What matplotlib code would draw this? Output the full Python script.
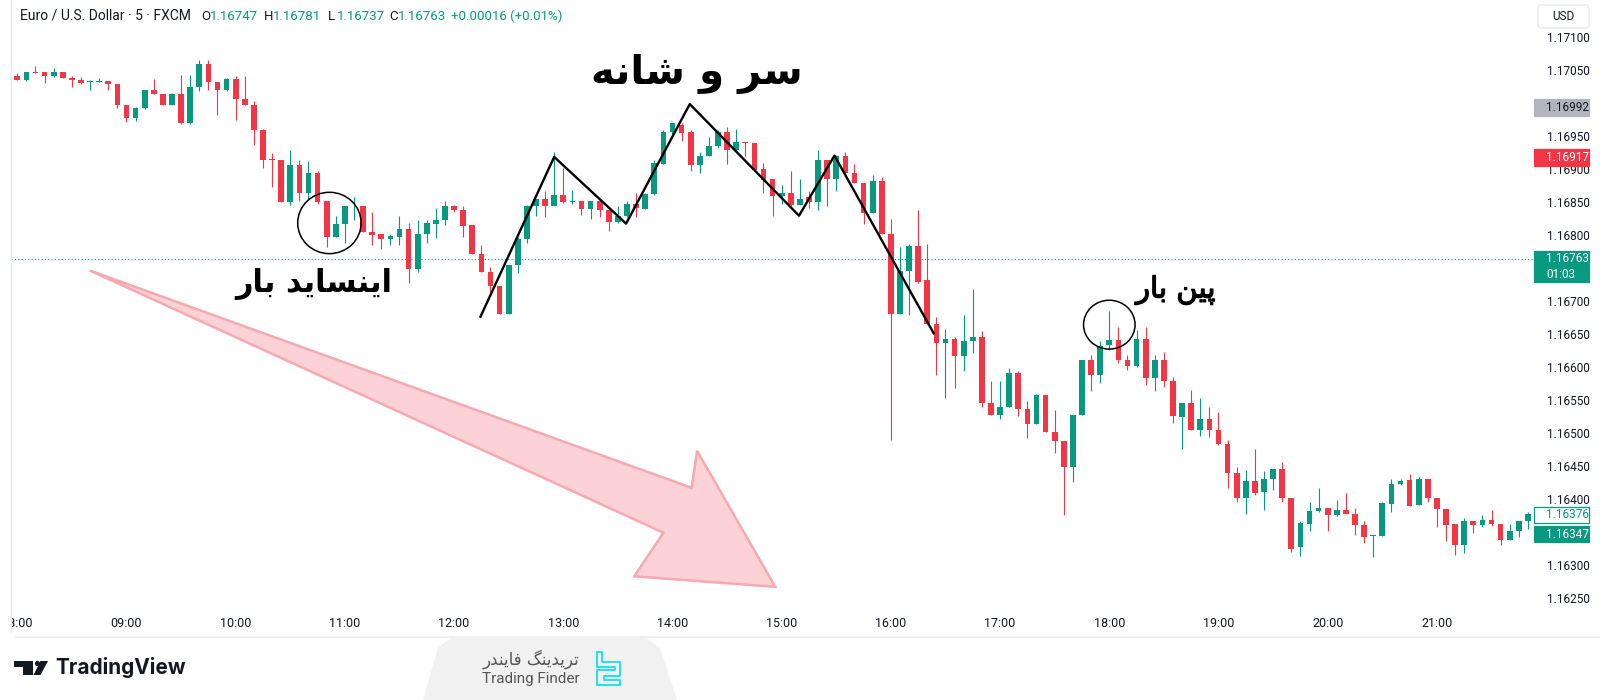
import matplotlib
matplotlib.use("Agg")
import numpy as np
import matplotlib.pyplot as plt
import matplotlib.patheffects as pe
from matplotlib.patches import Ellipse, Polygon, FancyBboxPatch, Rectangle, Circle

plt.rcParams["font.family"] = ["Roboto", "DejaVu Sans"]

# EUR/USD 5 min candles, 08:00 -> 21:50
opens = [1.17040, 1.17034, 1.17047, 1.17046, 1.17040, 1.17046, 1.17038, 1.17035, 1.17031, 1.17032,
         1.17033, 1.17029, 1.16997, 1.16977, 1.16992, 1.17019, 1.17013, 1.16997, 1.17014, 1.16969,
         1.17024, 1.17059, 1.17032, 1.17019, 1.17036, 1.17005, 1.16997, 1.16959, 1.16914, 1.16913,
         1.16849, 1.16906, 1.16864, 1.16893, 1.16851, 1.16797, 1.16817, 1.16843, 1.16843, 1.16805,
         1.16801, 1.16794, 1.16797, 1.16809, 1.16749, 1.16802, 1.16817, 1.16822, 1.16843, 1.16838,
         1.16815, 1.16771, 1.16744, 1.16722, 1.16680, 1.16754, 1.16793, 1.16843, 1.16855, 1.16843,
         1.16860, 1.16850, 1.16852, 1.16839, 1.16852, 1.16838, 1.16819, 1.16828, 1.16847, 1.16839,
         1.16862, 1.16908, 1.16955, 1.16967, 1.16955, 1.16906, 1.16920, 1.16934, 1.16955, 1.16929,
         1.16940, 1.16939, 1.16899, 1.16884, 1.16859, 1.16864, 1.16845, 1.16857, 1.16849, 1.16913,
         1.16884, 1.16919, 1.16893, 1.16879, 1.16833, 1.16882, 1.16802, 1.16680, 1.16746, 1.16783,
         1.16732, 1.16665, 1.16637, 1.16643, 1.16617, 1.16640, 1.16645, 1.16545, 1.16527, 1.16539,
         1.16591, 1.16537, 1.16514, 1.16558, 1.16501, 1.16488, 1.16448, 1.16527, 1.16610, 1.16588,
         1.16633, 1.16641, 1.16610, 1.16602, 1.16642, 1.16584, 1.16610, 1.16578, 1.16524, 1.16546,
         1.16504, 1.16521, 1.16505, 1.16484, 1.16440, 1.16402, 1.16428, 1.16410, 1.16430, 1.16445,
         1.16402, 1.16328, 1.16362, 1.16382, 1.16386, 1.16376, 1.16384, 1.16378, 1.16360, 1.16344,
         1.16344, 1.16393, 1.16422, 1.16429, 1.16391, 1.16430, 1.16402, 1.16385, 1.16362, 1.16331,
         1.16367, 1.16361, 1.16368, 1.16362, 1.16338, 1.16352, 1.16367]
highs = [1.17045, 1.17046, 1.17056, 1.17046, 1.17052, 1.17046, 1.17040, 1.17039, 1.17035, 1.17037,
         1.17033, 1.17029, 1.16997, 1.16993, 1.17019, 1.17036, 1.17013, 1.17015, 1.17042, 1.17042,
         1.17064, 1.17064, 1.17032, 1.17037, 1.17041, 1.17041, 1.17002, 1.16960, 1.16924, 1.16913,
         1.16929, 1.16913, 1.16912, 1.16896, 1.16851, 1.16828, 1.16844, 1.16858, 1.16843, 1.16834,
         1.16801, 1.16802, 1.16828, 1.16818, 1.16823, 1.16823, 1.16840, 1.16852, 1.16845, 1.16844,
         1.16815, 1.16785, 1.16752, 1.16722, 1.16754, 1.16797, 1.16845, 1.16855, 1.16866, 1.16926,
         1.16901, 1.16868, 1.16852, 1.16852, 1.16855, 1.16838, 1.16843, 1.16852, 1.16863, 1.16863,
         1.16913, 1.16959, 1.16970, 1.16969, 1.16959, 1.16925, 1.16948, 1.16959, 1.16964, 1.16960,
         1.16941, 1.16939, 1.16909, 1.16884, 1.16876, 1.16896, 1.16884, 1.16866, 1.16928, 1.16913,
         1.16921, 1.16926, 1.16908, 1.16879, 1.16891, 1.16887, 1.16824, 1.16782, 1.16786, 1.16837,
         1.16786, 1.16676, 1.16657, 1.16646, 1.16679, 1.16718, 1.16655, 1.16578, 1.16579, 1.16598,
         1.16594, 1.16548, 1.16559, 1.16558, 1.16535, 1.16488, 1.16527, 1.16611, 1.16618, 1.16640,
         1.16684, 1.16661, 1.16618, 1.16656, 1.16661, 1.16618, 1.16623, 1.16585, 1.16546, 1.16565,
         1.16553, 1.16539, 1.16532, 1.16490, 1.16448, 1.16444, 1.16475, 1.16442, 1.16445, 1.16456,
         1.16402, 1.16366, 1.16396, 1.16417, 1.16386, 1.16398, 1.16409, 1.16386, 1.16367, 1.16346,
         1.16395, 1.16431, 1.16431, 1.16438, 1.16434, 1.16430, 1.16402, 1.16385, 1.16362, 1.16371,
         1.16367, 1.16376, 1.16384, 1.16362, 1.16362, 1.16367, 1.16380]
lows = [1.17034, 1.17033, 1.17045, 1.17030, 1.17039, 1.17037, 1.17024, 1.17028, 1.17019, 1.17031,
        1.17019, 1.16992, 1.16971, 1.16973, 1.16991, 1.17013, 1.16996, 1.16996, 1.16968, 1.16968,
        1.17018, 1.17019, 1.16982, 1.17018, 1.16974, 1.16997, 1.16936, 1.16901, 1.16873, 1.16849,
        1.16845, 1.16852, 1.16855, 1.16847, 1.16782, 1.16797, 1.16787, 1.16823, 1.16805, 1.16785,
        1.16778, 1.16785, 1.16785, 1.16727, 1.16743, 1.16787, 1.16795, 1.16815, 1.16835, 1.16797,
        1.16771, 1.16743, 1.16707, 1.16680, 1.16680, 1.16742, 1.16787, 1.16828, 1.16827, 1.16843,
        1.16848, 1.16847, 1.16830, 1.16824, 1.16827, 1.16806, 1.16818, 1.16827, 1.16827, 1.16839,
        1.16860, 1.16907, 1.16953, 1.16942, 1.16897, 1.16894, 1.16919, 1.16931, 1.16908, 1.16928,
        1.16919, 1.16898, 1.16863, 1.16829, 1.16847, 1.16844, 1.16845, 1.16840, 1.16838, 1.16843,
        1.16866, 1.16892, 1.16878, 1.16817, 1.16833, 1.16802, 1.16490, 1.16680, 1.16679, 1.16727,
        1.16665, 1.16588, 1.16553, 1.16568, 1.16594, 1.16621, 1.16540, 1.16527, 1.16521, 1.16539,
        1.16525, 1.16492, 1.16514, 1.16501, 1.16469, 1.16376, 1.16426, 1.16527, 1.16563, 1.16575,
        1.16626, 1.16606, 1.16595, 1.16600, 1.16573, 1.16564, 1.16570, 1.16515, 1.16475, 1.16504,
        1.16496, 1.16494, 1.16482, 1.16416, 1.16395, 1.16377, 1.16406, 1.16384, 1.16414, 1.16395,
        1.16320, 1.16313, 1.16352, 1.16381, 1.16352, 1.16375, 1.16378, 1.16346, 1.16334, 1.16312,
        1.16344, 1.16381, 1.16421, 1.16389, 1.16391, 1.16395, 1.16358, 1.16336, 1.16315, 1.16319,
        1.16349, 1.16358, 1.16359, 1.16331, 1.16338, 1.16342, 1.16354]
closes = [1.17034, 1.17046, 1.17045, 1.17040, 1.17046, 1.17037, 1.17035, 1.17030, 1.17033, 1.17033,
          1.17028, 1.16997, 1.16977, 1.16992, 1.17019, 1.17013, 1.16997, 1.17014, 1.16969, 1.17024,
          1.17059, 1.17032, 1.17019, 1.17036, 1.17005, 1.16997, 1.16959, 1.16913, 1.16913, 1.16849,
          1.16906, 1.16864, 1.16893, 1.16850, 1.16797, 1.16817, 1.16843, 1.16844, 1.16805, 1.16800,
          1.16793, 1.16798, 1.16809, 1.16749, 1.16802, 1.16818, 1.16823, 1.16843, 1.16837, 1.16814,
          1.16771, 1.16744, 1.16722, 1.16680, 1.16754, 1.16793, 1.16844, 1.16855, 1.16843, 1.16860,
          1.16849, 1.16852, 1.16839, 1.16852, 1.16838, 1.16820, 1.16829, 1.16847, 1.16840, 1.16862,
          1.16909, 1.16955, 1.16969, 1.16954, 1.16906, 1.16920, 1.16935, 1.16955, 1.16929, 1.16940,
          1.16939, 1.16898, 1.16883, 1.16859, 1.16864, 1.16845, 1.16855, 1.16849, 1.16913, 1.16884,
          1.16919, 1.16893, 1.16879, 1.16833, 1.16882, 1.16802, 1.16680, 1.16746, 1.16783, 1.16729,
          1.16665, 1.16637, 1.16643, 1.16617, 1.16640, 1.16645, 1.16545, 1.16527, 1.16540, 1.16591,
          1.16537, 1.16514, 1.16558, 1.16501, 1.16488, 1.16448, 1.16527, 1.16610, 1.16588, 1.16632,
          1.16641, 1.16611, 1.16602, 1.16642, 1.16584, 1.16610, 1.16578, 1.16525, 1.16546, 1.16504,
          1.16521, 1.16505, 1.16484, 1.16440, 1.16402, 1.16428, 1.16409, 1.16430, 1.16445, 1.16402,
          1.16325, 1.16363, 1.16382, 1.16386, 1.16376, 1.16384, 1.16378, 1.16360, 1.16343, 1.16346,
          1.16394, 1.16423, 1.16428, 1.16390, 1.16430, 1.16402, 1.16385, 1.16361, 1.16331, 1.16367,
          1.16361, 1.16368, 1.16362, 1.16338, 1.16352, 1.16367, 1.16377]

time_labels = ["08:00", "09:00", "10:00", "11:00", "12:00", "13:00", "14:00",
               "15:00", "16:00", "17:00", "18:00", "19:00", "20:00", "21:00"]
# scale labels that are not hidden behind the price tags
price_ticks = [1.16250, 1.16300, 1.16400, 1.16450, 1.16500, 1.16550, 1.16600, 1.16650,
               1.16700, 1.16800, 1.16850, 1.16900, 1.16950, 1.17050, 1.17100]

last_price = 1.16763
header_ohlc = ["1.16747", "1.16781", "1.16737", "1.16763"]
header_change = "+0.00016 (+0.01%)"

# head and shoulders zigzag (candle index, price)
hs_x = [50.9, 59.0, 66.9, 73.9, 85.9, 89.8, 100.7]
hs_y = [1.16676, 1.16918, 1.16817, 1.16998, 1.16829, 1.16920, 1.16651]

# big pink arrow outline (candle index, price)
arrow_x = [7.97, 74.1, 74.7, 83.3, 67.8, 71.0]
arrow_y = [1.16746, 1.16417, 1.16473, 1.16267, 1.16283, 1.16349]

GREEN = "#089981"
RED = "#f23645"
TXT = "#131722"

# minimal persian shaping (presentation forms + visual order)
FORMS = {
    "ا": ("\uFE8D", "\uFE8E", None, None),
    "ب": ("\uFE8F", "\uFE90", "\uFE91", "\uFE92"),
    "پ": ("\uFB56", "\uFB57", "\uFB58", "\uFB59"),
    "ت": ("\uFE95", "\uFE96", "\uFE97", "\uFE98"),
    "د": ("\uFEA9", "\uFEAA", None, None),
    "ر": ("\uFEAD", "\uFEAE", None, None),
    "س": ("\uFEB1", "\uFEB2", "\uFEB3", "\uFEB4"),
    "ش": ("\uFEB5", "\uFEB6", "\uFEB7", "\uFEB8"),
    "ف": ("\uFED1", "\uFED2", "\uFED3", "\uFED4"),
    "ن": ("\uFEE5", "\uFEE6", "\uFEE7", "\uFEE8"),
    "ه": ("\uFEE9", "\uFEEA", "\uFEEB", "\uFEEC"),
    "و": ("\uFEED", "\uFEEE", None, None),
    "ی": ("\uFBFC", "\uFBFD", "\uFBFE", "\uFBFF"),
    "گ": ("\uFB92", "\uFB93", "\uFB94", "\uFB95"),
}


def fa(text):
    out = []
    for k, ch in enumerate(text):
        if ch not in FORMS:
            out.append(ch)
            continue
        prev = text[k - 1] if k > 0 else ""
        nxt = text[k + 1] if k + 1 < len(text) else ""
        iso, fin, ini, med = FORMS[ch]
        jp = prev in FORMS and FORMS[prev][2] is not None
        jn = ini is not None and nxt in FORMS
        if jp and jn:
            out.append(med)
        elif jp:
            out.append(fin)
        elif jn:
            out.append(ini)
        else:
            out.append(iso)
    return "".join(reversed(out))


fig = plt.figure(figsize=(16, 7), dpi=100, facecolor="white")
ax = fig.add_axes([11 / 1600, 1 - 608 / 700, 1522 / 1600, 608 / 700])
ax.set_xlim(-0.69, 166.56)
ax.set_ylim(1.16235, 1.171556)
for s in ax.spines.values():
    s.set_visible(False)

o = np.array(opens)
h = np.array(highs)
l = np.array(lows)
c = np.array(closes)
idx = np.arange(len(o))
cols = np.where(c >= o, GREEN, RED)
ax.vlines(idx, l, h, colors=cols, lw=0.8, zorder=3)
ax.bar(idx, np.maximum(np.abs(c - o), 0.000012), bottom=np.minimum(o, c), width=0.63,
       color=cols, linewidth=0, zorder=4)

ax.axhline(last_price, color=GREEN, lw=0.8, ls=(0, (1, 2)), zorder=2)

# annotations
ax.add_patch(Polygon(list(zip(arrow_x, arrow_y)), closed=True, fc="#fcd2d6", ec="#f6a9b1",
                     lw=1.8, zorder=1))
ax.plot(hs_x, hs_y, color="black", lw=1.7, zorder=6)
ax.add_patch(Ellipse((34.3, 1.16818), 6.97, 0.000929, fill=False, ec="black", lw=1.1, zorder=6))
ax.add_patch(Ellipse((120.0, 1.16664), 5.66, 0.00074, fill=False, ec="black", lw=1.1, zorder=6))

ax.text(74.7, 1.17044, fa("سر و شانه"), family=["DejaVu Sans"], fontsize=29, fontweight="bold",
        ha="center", va="center", color="black", zorder=7)
ax.text(32.6, 1.16725, fa("اینساید بار"), family=["DejaVu Sans"], fontsize=22, fontweight="bold",
        ha="center", va="center", color="black", zorder=7)
ax.text(127.3, 1.16716, fa("پین بار"), family=["DejaVu Sans"], fontsize=21,
        ha="center", va="center", color="black", zorder=7,
        path_effects=[pe.withStroke(linewidth=0.9, foreground="black")])

# axes ticks
ax.set_xticks(np.arange(0, 12 * len(time_labels), 12))
ax.set_xticklabels(time_labels)
ax.tick_params(axis="x", length=0, pad=6.5, labelsize=9, labelcolor=TXT)
ax.yaxis.tick_right()
ax.set_yticks(price_ticks)
ax.set_yticklabels([f"{v:.5f}" for v in price_ticks])
ax.tick_params(axis="y", length=0, pad=10, labelsize=8.5, labelcolor=TXT)

# overlay in pixel coordinates
ov = fig.add_axes([0, 0, 1, 1], zorder=10)
ov.set_xlim(0, 1600)
ov.set_ylim(700, 0)
ov.axis("off")

ov.add_patch(Rectangle((0, 595), 11, 45, fc="white", ec="none"))
ov.plot([11, 11], [0, 632], color="#e6e8ee", lw=1)
ov.plot([15, 1600], [636.5, 636.5], color="#eceef2", lw=1.2)

# header
ov.text(20, 16, "Euro / U.S. Dollar · 5 · FXCM", fontsize=10, color=TXT, va="center")
for letter, val, x in zip("OHLC", header_ohlc, [201, 264, 328, 389]):
    ov.text(x, 16, letter, fontsize=9.5, color=TXT, va="center")
    ov.text(x + 9, 16, val, fontsize=9.5, color=GREEN, va="center")
ov.text(451, 16, header_change, fontsize=9.5, color=GREEN, va="center")

# currency box
ov.add_patch(FancyBboxPatch((1538, 5), 51, 23, boxstyle="round,pad=0,rounding_size=3",
                            fc="white", ec="#e0e3eb", lw=0.8))
ov.text(1563.5, 16.5, "USD", fontsize=8.5, color=TXT, ha="center", va="center")


# price labels on the scale
def price_box(y0, y1, fc, ec, lines, tc):
    ov.add_patch(Rectangle((1534, y0), 55, y1 - y0, fc=fc, ec=ec, lw=0.9))
    step = (y1 - y0) / len(lines)
    for n, s in enumerate(lines):
        ov.text(1546, y0 + step * (n + 0.5), s, fontsize=8.5, color=tc, va="center")


price_box(99, 116, "#b2b5be", "#b2b5be", ["1.16992"], TXT)
price_box(149, 166, RED, RED, ["1.16917"], "white")
price_box(251, 282, GREEN, GREEN, [f"{last_price:.5f}", "01:03"], "white")
price_box(507, 523, "white", GREEN, ["1.16376"], GREEN)
price_box(526, 542, GREEN, GREEN, ["1.16347"], "white")

# TradingView logo
ov.add_patch(Rectangle((14, 661), 19, 6, fc=TXT, ec="none"))
ov.add_patch(Rectangle((23, 661), 10, 14, fc=TXT, ec="none"))
ov.add_patch(Circle((37.5, 663.5), 2.6, fc=TXT, ec="none"))
ov.add_patch(Polygon([(40.5, 661), (48, 661), (40.5, 675), (33.5, 675)], fc=TXT, ec="none"))
ov.text(55, 668, "TradingView", fontsize=15, fontweight="bold", family=["Inter", "DejaVu Sans"],
        color=TXT, va="center")

# Trading Finder tab
ov.add_patch(Polygon([(423, 700), (438, 648), (452, 637), (645, 637), (660, 648), (677, 700)],
                     fc="#f1f1f1", ec="none"))
ov.text(531, 659, fa("تریدینگ فایندر"), family=["DejaVu Sans"], fontsize=12, color="#555555",
        ha="center", va="center")
ov.text(531, 679, "Trading Finder", fontsize=11, color="#555555", ha="center", va="center")
ov.plot([597, 602, 602, 620, 620, 604, 604, 620, 620, 597, 597, 615, 615, 597, 597],
        [652, 652, 662, 662, 676, 676, 680, 680, 685, 685, 670, 670, 667, 667, 652],
        color="#1ee3f2", lw=1.4)

fig.savefig("out.png", dpi=100, facecolor="white")
